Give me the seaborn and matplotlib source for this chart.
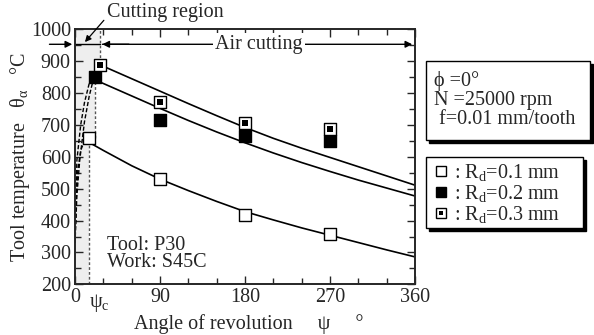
import matplotlib
matplotlib.use("Agg")
import matplotlib.pyplot as plt
from matplotlib.lines import Line2D
from matplotlib.patches import Rectangle
from matplotlib.legend_handler import HandlerTuple
import numpy as np
import pandas as pd
import seaborn as sns

# ── Data ────────────────────────────────────────────────────────────────────
series = ["0.1", "0.2", "0.3"]

# measured points (angle of revolution psi [deg], tool temperature [degC])
psi_01 = [15, 90, 180, 270]
temp_01 = [658, 529, 416, 357]
psi_02 = [21, 90, 180, 270]
temp_02 = [850, 714, 664, 650]
psi_03 = [26, 90, 180, 270]
temp_03 = [889, 771, 705, 688]

# cooling curves (air cutting), read every 30 deg
cool_psi_01 = [15, 30, 60, 90, 120, 150, 180, 210, 240, 270, 300, 330, 360]
cool_temp_01 = [645, 620, 572, 530, 494, 460, 428, 402, 377, 354, 331, 308, 286]
cool_psi_02 = [21, 30, 60, 90, 120, 150, 180, 210, 240, 270, 300, 330, 360]
cool_temp_02 = [841, 830, 791, 752, 714, 678, 644, 612, 582, 554, 527, 502, 477]
cool_psi_03 = [26, 30, 60, 90, 120, 150, 180, 210, 240, 270, 300, 330, 360]
cool_temp_03 = [889, 884, 845, 806, 767, 729, 692, 658, 627, 598, 569, 540, 511]

# heating curves inside the cutting region (dashed)
heat_psi_01 = [0, 1, 3, 6, 10, 15]
heat_temp_01 = [330, 450, 560, 620, 650, 658]
heat_psi_02 = [0, 1, 2, 6, 10, 15, 21]
heat_temp_02 = [330, 480, 590, 700, 770, 830, 850]
heat_psi_03 = [0, 2, 5, 10, 15, 20, 26]
heat_temp_03 = [330, 480, 590, 710, 790, 850, 889]

psi_c = [15, 21, 26]          # end of cutting for each Rd
region_top = [1000, 850, 658]  # upper end of each step of the shaded region
region_bot = [850, 658, 200]

conditions = ["ϕ =0°", "N =25000 rpm", " f=0.01 mm/tooth"]

FS = 14.5

sns.set_style("ticks")
plt.rcParams.update({
    "font.family": ["Liberation Serif", "DejaVu Serif"],
    "font.size": FS,
    "mathtext.fontset": "custom",
    "mathtext.rm": "Liberation Serif",
    "mathtext.it": "Liberation Serif:italic",
    "axes.linewidth": 1.4,
    "xtick.direction": "in",
    "ytick.direction": "in",
})

pts = pd.DataFrame({
    "psi": psi_01 + psi_02 + psi_03,
    "temp": temp_01 + temp_02 + temp_03,
    "Rd": ["0.1"] * 4 + ["0.2"] * 4 + ["0.3"] * 4,
})
cool = pd.DataFrame({
    "psi": cool_psi_01 + cool_psi_02 + cool_psi_03,
    "temp": cool_temp_01 + cool_temp_02 + cool_temp_03,
    "Rd": ["0.1"] * len(cool_psi_01) + ["0.2"] * len(cool_psi_02) + ["0.3"] * len(cool_psi_03),
})
heat = pd.DataFrame({
    "psi": heat_psi_01 + heat_psi_02 + heat_psi_03,
    "temp": heat_temp_01 + heat_temp_02 + heat_temp_03,
    "Rd": ["0.1"] * len(heat_psi_01) + ["0.2"] * len(heat_psi_02) + ["0.3"] * len(heat_psi_03),
})

fig = plt.figure(figsize=(5.94, 3.35), dpi=100)
ax = fig.add_axes([0.1263, 0.1513, 0.5724, 0.7612])

# shaded cutting region (stepped)
for pc, top, bot in zip(psi_c[::-1], region_top, region_bot):
    ax.fill_betweenx([bot, top], 0, pc, color="#eeeeee", lw=0, zorder=0)
for pc, top, bot in zip(psi_c[::-1], region_top, region_bot):
    ax.plot([pc, pc], [bot, top], ls=(0, (2, 1.5)), color="#555555", lw=1.0, zorder=1)

black = {s: "black" for s in series}
sns.lineplot(data=cool, x="psi", y="temp", hue="Rd", palette=black, lw=1.2,
             sort=False, estimator=None, legend=False, ax=ax, zorder=2)
sns.lineplot(data=heat, x="psi", y="temp", hue="Rd", palette=black, lw=1.0,
             sort=False, estimator=None, legend=False, ax=ax, zorder=2)
for line in ax.lines[-3:]:
    line.set_linestyle((0, (3, 1.5)))

face = {"0.1": "white", "0.2": "black", "0.3": "white"}
for s in series:
    sub = pts[pts["Rd"] == s]
    sns.scatterplot(data=sub, x="psi", y="temp", marker="s", s=80,
                    color=face[s], edgecolor="black", linewidth=1.0,
                    legend=False, ax=ax, zorder=4)
sub3 = pts[pts["Rd"] == "0.3"]
sns.scatterplot(data=sub3, x="psi", y="temp", marker="s", s=20, color="black",
                linewidth=0, legend=False, ax=ax, zorder=5)

ax.set_xlim(0, 360)
ax.set_ylim(200, 1000)
ax.set_xticks([0, 90, 180, 270, 360])
ax.set_xticks(np.arange(0, 361, 30), minor=True)
ax.set_yticks(np.arange(200, 1001, 100))
ax.set_yticks(np.arange(200, 1001, 50), minor=True)
ax.tick_params(which="both", top=True, right=True, width=1.0)
ax.tick_params(which="major", length=6, labelsize=FS, pad=3)
ax.tick_params(which="minor", length=4)
ax.text(26, -0.03, "ψ$_\\mathrm{c}$", transform=ax.get_xaxis_transform(),
        ha="center", va="top", fontsize=FS)

ax.set_xlabel("Angle of revolution     ψ     °", fontsize=FS)
ax.xaxis.set_label_coords(0.51, -0.115)
ax.set_ylabel("Tool temperature   θ$_\\mathrm{α}$   °C", fontsize=FS)
ax.yaxis.set_label_coords(-0.127, 0.5)

# arrows marking cutting / air cutting
y_arr = 953
arw = dict(arrowstyle="-|>", color="black", lw=1.0, mutation_scale=10)
ax.annotate("", xy=(0, y_arr), xytext=(-30, y_arr), arrowprops=arw,
            annotation_clip=False)
ax.plot([0, 26], [y_arr, y_arr], color="black", lw=1.0)
ax.annotate("", xy=(26, y_arr), xytext=(60, y_arr), arrowprops=arw)
ax.annotate("", xy=(360, y_arr), xytext=(26, y_arr), arrowprops=arw)
ax.text(195, y_arr, "Air cutting", ha="center", va="center", fontsize=FS,
        bbox=dict(facecolor="white", edgecolor="none", pad=1.5), zorder=6)
ax.annotate("Cutting region", xy=(10.5, 960), xytext=(34, 1052),
            ha="left", va="center", fontsize=FS, annotation_clip=False,
            arrowprops=dict(arrowstyle="-|>", color="black", lw=0.9,
                            mutation_scale=9, shrinkA=0, shrinkB=0,
                            relpos=(0, 0.3)))

ax.text(34, 323, "Tool: P30", fontsize=FS, va="center")
ax.text(34, 267, "Work: S45C", fontsize=FS, va="center")

# condition box and legend box with black drop shadow (figure pixels)
W, H = 594, 335


def box(x0, y0, x1, y1):
    for dx, fc in ((3, "black"), (0, "white")):
        fig.patches.append(Rectangle(((x0 + dx) / W, 1 - (y1 + dx) / H),
                                     (x1 - x0) / W, (y1 - y0) / H,
                                     transform=fig.transFigure, facecolor=fc,
                                     edgecolor="black", lw=1.0))


box(426, 61, 590, 140)
box(426, 157, 583, 228)
for i, line in enumerate(conditions):
    fig.text(434 / W, 1 - (81 + 19.5 * i) / H, line, fontsize=FS, va="center")

h1 = Line2D([], [], marker="s", ls="", ms=7.5, mfc="white", mec="black", mew=1.0)
h2 = Line2D([], [], marker="s", ls="", ms=7.5, mfc="black", mec="black", mew=1.0)
h3a = Line2D([], [], marker="s", ls="", ms=7.5, mfc="white", mec="black", mew=1.0)
h3b = Line2D([], [], marker="s", ls="", ms=3.2, mfc="black", mec="black", mew=0)
labels = [": R$_\\mathrm{d}$=%s mm" % s for s in series]
fig.legend([h1, h2, (h3a, h3b)], labels, loc="upper left",
           bbox_to_anchor=(434 / W, 1 - 162 / H), frameon=False,
           handler_map={tuple: HandlerTuple(ndivide=1)},
           handlelength=0.7, handletextpad=0.3, labelspacing=0.0,
           borderaxespad=0, borderpad=0, fontsize=FS)

fig.savefig("out.png", dpi=100)
